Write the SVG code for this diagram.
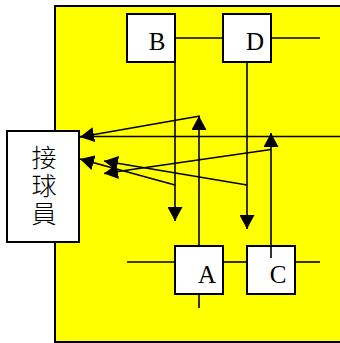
<svg xmlns="http://www.w3.org/2000/svg" width="340" height="343" viewBox="0 0 340 343">
  <style>
    .box { fill: #ffffff; stroke: #000000; stroke-width: 2; }
    .lbl { font-family: "Liberation Serif", "DejaVu Serif", serif; font-size: 25px; fill: #000000; text-anchor: middle; }
    .cjk { font-family: "Noto Sans CJK TC", "Noto Sans CJK JP", sans-serif; font-size: 25px; font-weight: 300; fill: #000000; writing-mode: vertical-rl; letter-spacing: 3px; }
    .ln { stroke: #000000; stroke-width: 1.6; fill: none; }
    .ar { stroke: #000000; stroke-width: 1.6; fill: none; marker-end: url(#arrow); }
  </style>
  <defs>
    <marker id="arrow" markerUnits="userSpaceOnUse" markerWidth="15" markerHeight="15" refX="14" refY="7.5" orient="auto" viewBox="0 0 15 15">
      <path d="M0,0 L14,7.5 L0,15 Z" fill="#000000"/>
    </marker>
  </defs>
  <rect x="55" y="6" width="300" height="336" fill="#ffff00" stroke="#000000" stroke-width="2"/>
  <g id="node-catcher">
    <rect class="box" x="7" y="131" width="72" height="111"/>
    <text class="cjk" x="44" y="145">接球員</text>
  </g>
  <g id="node-B">
    <rect class="box" x="127" y="14" width="48" height="48"/>
    <text class="lbl" x="157" y="50">B</text>
  </g>
  <g id="node-D">
    <rect class="box" x="223" y="14" width="48" height="48"/>
    <text class="lbl" x="255" y="50">D</text>
  </g>
  <g id="node-A">
    <rect class="box" x="175" y="246" width="48" height="48"/>
    <text class="lbl" x="207" y="283">A</text>
  </g>
  <g id="node-C">
    <rect class="box" x="247" y="246" width="48" height="48"/>
    <text class="lbl" x="278" y="283">C</text>
  </g>
  <g id="connectors">
    <line class="ln" x1="175" y1="38" x2="223" y2="38"/>
    <line class="ln" x1="271" y1="38" x2="320" y2="38"/>
    <line class="ln" x1="127" y1="262" x2="175" y2="262"/>
    <line class="ln" x1="223" y1="262" x2="247" y2="262"/>
    <line class="ln" x1="295" y1="262" x2="320" y2="262"/>
    <line class="ln" x1="199" y1="294" x2="199" y2="308"/>
    <line class="ln" x1="80" y1="136.5" x2="340" y2="136.5"/>
    <line class="ar" x1="175" y1="62" x2="175" y2="221"/>
    <line class="ar" x1="247" y1="62" x2="247" y2="229"/>
    <line class="ar" x1="199" y1="246" x2="199" y2="116"/>
    <line class="ar" x1="271" y1="258" x2="271" y2="133"/>
    <line class="ar" x1="200" y1="116" x2="80" y2="137"/>
    <line class="ar" x1="175" y1="185" x2="80" y2="159"/>
    <line class="ar" x1="247" y1="185" x2="104" y2="161"/>
    <line class="ar" x1="271" y1="149.5" x2="104" y2="173.5"/>
  </g>
</svg>
